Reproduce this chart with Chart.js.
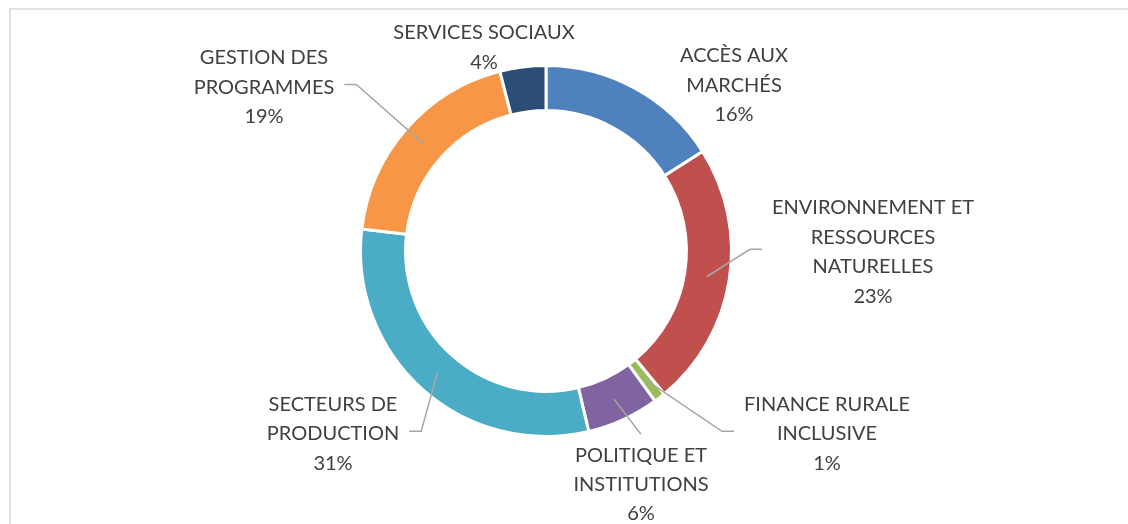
<!DOCTYPE html>
<html lang="fr">
<head>
<meta charset="utf-8">
<title>Répartition par composante</title>
<script src="https://cdn.jsdelivr.net/npm/chart.js@4/dist/chart.umd.min.js"></script>
<style>
  html, body { margin: 0; padding: 0; background: #fff; }
  #wrap { position: relative; width: 1128px; height: 524px; }
</style>
</head>
<body>
<div id="wrap"><canvas id="donutChart" width="1128" height="524"></canvas></div>
<script>
// ─── Data ─────────────────────────────────────────────────
const categories = [
  ['ACCÈS AUX', 'MARCHÉS'],
  ['ENVIRONNEMENT ET', 'RESSOURCES', 'NATURELLES'],
  ['FINANCE RURALE', 'INCLUSIVE'],
  ['POLITIQUE ET', 'INSTITUTIONS'],
  ['SECTEURS DE', 'PRODUCTION'],
  ['GESTION DES', 'PROGRAMMES'],
  ['SERVICES SOCIAUX']
];
const shares = [16.0, 23.0, 1.0, 6.3, 30.6, 19.1, 4.0];
const sliceColors = ['#4F81BD', '#C0504D', '#9BBB59', '#8064A2', '#4BACC6', '#F79646', '#2C4D75'];

// ─── Label layout (offsets from the ring centre, first baseline) ──
const labelLayout = [
  { dx: 188,  dy: -188.7, leader: null },
  { dx: 327,  dy: -36.7,  leader: 'left' },
  { dx: 281,  dy: 160,    leader: 'left' },
  { dx: 95,   dy: 210.6,  leader: 'top' },
  { dx: -213, dy: 160,    leader: 'right' },
  { dx: -282, dy: -186.7, leader: 'right' },
  { dx: -62,  dy: -211.7, leader: null }
];

const LABEL_FONT = '20px Lato, "Open Sans", sans-serif';
const LINE_H = 29.4;
const CAP_H = 14.3;

// ─── Outside labels + leader lines ────────────────────────
const outsideLabels = {
  id: 'outsideLabels',
  beforeDraw(chart) {
    const { ctx } = chart;
    ctx.save();
    ctx.strokeStyle = '#D9D9D9';
    ctx.lineWidth = 1.5;
    ctx.beginPath();
    ctx.moveTo(10, chart.height);
    ctx.lineTo(10, 9);
    ctx.lineTo(chart.width, 9);
    ctx.stroke();
    ctx.restore();
  },
  afterDraw(chart) {
    const { ctx } = chart;
    const meta = chart.getDatasetMeta(0);
    const values = chart.data.datasets[0].data;
    const total = values.reduce((a, b) => a + b, 0);

    ctx.save();
    ctx.font = LABEL_FONT;
    ctx.textAlign = 'center';
    ctx.textBaseline = 'alphabetic';

    meta.data.forEach((arc, i) => {
      const lay = labelLayout[i];
      const lines = [...categories[i], Math.round(values[i] / total * 100) + '%'];
      const cx = arc.x + lay.dx;
      const baseY = arc.y + lay.dy;

      const w = Math.max(...lines.map(t => ctx.measureText(t).width));
      const midY = baseY - CAP_H / 2 + (lines.length - 1) * LINE_H / 2 - 2;

      if (lay.leader) {
        const a = (arc.startAngle + arc.endAngle) / 2;
        const r = (arc.innerRadius + arc.outerRadius) / 2;
        const sx = arc.x + Math.cos(a) * r;
        const sy = arc.y + Math.sin(a) * r;
        ctx.strokeStyle = '#A6A6A6';
        ctx.lineWidth = 1.5;
        ctx.beginPath();
        ctx.moveTo(sx, sy);
        if (lay.leader === 'top') {
          ctx.lineTo(cx, baseY - CAP_H - 13);
        } else if (lay.leader === 'right') {
          ctx.lineTo(cx + w / 2 + 22, midY);
          ctx.lineTo(cx + w / 2 + 10, midY);
        } else {
          ctx.lineTo(cx - w / 2 - 22, midY);
          ctx.lineTo(cx - w / 2 - 10, midY);
        }
        ctx.stroke();
      }

      ctx.fillStyle = '#404040';
      lines.forEach((t, k) => ctx.fillText(t, cx, baseY + k * LINE_H));
    });
    ctx.restore();
  }
};

// ─── Chart ────────────────────────────────────────────────
new Chart(document.getElementById('donutChart'), {
  type: 'doughnut',
  data: {
    labels: categories,
    datasets: [{
      data: shares,
      backgroundColor: sliceColors,
      borderColor: '#FFFFFF',
      borderWidth: 3,
      hoverOffset: 0
    }]
  },
  options: {
    responsive: false,
    animation: false,
    cutout: '75.7%',
    layout: { padding: { top: 64, bottom: 86, left: 300, right: 336 } },
    plugins: {
      legend: { display: false },
      tooltip: { enabled: false }
    }
  },
  plugins: [outsideLabels]
});
</script>
</body>
</html>
